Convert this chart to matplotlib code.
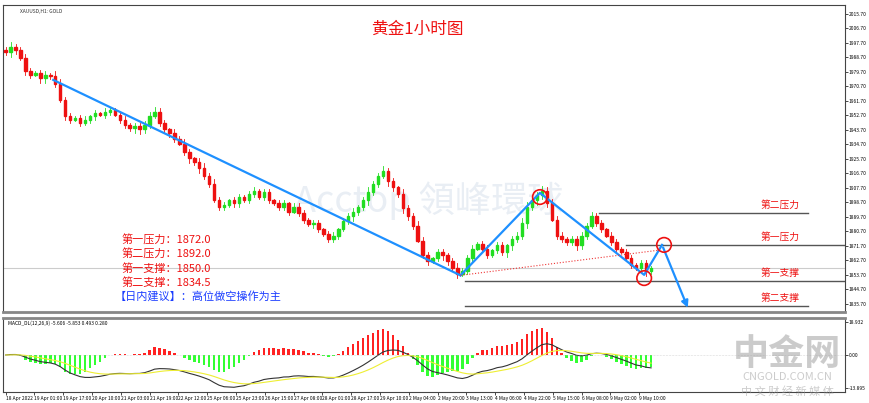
import numpy as np
import pandas as pd
import matplotlib
matplotlib.use("Agg")
import matplotlib.pyplot as plt
from matplotlib.patches import Rectangle

plt.rcParams['font.family'] = ['Noto Sans CJK SC', 'DejaVu Sans']

closes = [1992,1995,1993,1988,1980,1978,1979,1976,1978,1977,1972,1962,1952,1950,1951,1948,1950,1952,1954,1953,
          1955,1956,1953,1950,1947,1945,1946,1944,1947,1952,1955,1948,1944,1942,1938,1935,1930,1926,1924,1920,
          1915,1910,1900,1896,1897,1900,1898,1902,1900,1904,1906,1902,1905,1900,1898,1896,1898,1893,1896,1892,
          1888,1885,1886,1882,1879,1876,1878,1882,1887,1890,1893,1896,1900,1905,1910,1915,1918,1912,1908,1904,
          1895,1890,1884,1875,1866,1862,1864,1868,1866,1862,1858,1854,1856,1864,1870,1873,1870,1866,1869,1872,
          1868,1872,1876,1878,1886,1896,1900,1903,1906,1898,1888,1878,1876,1874,1876,1872,1878,1884,1890,1886,
          1882,1878,1874,1870,1868,1864,1860,1858,1861,1856,1858]
wicks = [2,3,2,2,3,2,1,2,2,1,3,3,2,2,1,2,2,1,2,1,2,2,1,2,2,1,2,2,2,3,3,2,2,1,2,2,3,2,1,2,
         3,2,3,2,2,1,2,2,1,2,2,1,2,2,1,2,2,1,2,2,2,1,2,2,1,2,2,1,2,2,2,1,2,3,2,2,3,2,2,1,
         3,2,2,3,2,2,1,2,2,1,2,3,2,2,2,1,2,2,1,2,2,1,2,2,3,3,2,2,3,2,3,2,2,1,2,2,2,2,3,2,
         2,1,2,2,1,2,2,1,2,2,1]

levels = {'第二压力': 1892.0, '第一压力': 1872.0, '第一支撑': 1850.0, '第二支撑': 1834.5}
ytick_vals = [2015.70 - 9*k for k in range(21)]
date_labels = ['18 Apr 2022','19 Apr 01:00','19 Apr 17:00','20 Apr 10:00','21 Apr 03:00','21 Apr 19:00',
               '22 Apr 12:00','25 Apr 06:00','25 Apr 23:00','26 Apr 15:00','27 Apr 08:00','28 Apr 01:00',
               '28 Apr 17:00','29 Apr 10:00','2 May 04:00','2 May 20:00','3 May 13:00','4 May 06:00',
               '4 May 22:00','5 May 15:00','6 May 08:00','9 May 02:00','9 May 10:00']

trend_x = [9.6, 91.6]; trend_y = [1974.7, 1853.4]
zig_x = [91.6, 107.6, 128.6, 132.2, 137.6]; zig_y = [1853.4, 1904.6, 1853.7, 1872.3, 1830.7]
dot_x = [91.6, 131.5]; dot_y = [1853.4, 1869.0]
circ_x = [107.6, 132.6, 128.6]; circ_y = [1902.0, 1872.3, 1851.7]

fig = plt.figure(figsize=(8.7, 4.03), dpi=100)
fig.patch.set_facecolor('white')
XMAX = 169
ax = fig.add_axes([0.003, 0.226, 0.968, 0.762])
ax.set_xlim(-0.6, XMAX)
ax.set_ylim(1830.7, 2021.3)

n = len(closes)
opens = [closes[0] + 1] + closes[:-1]
for i in range(n):
    o, c = opens[i], closes[i]
    col = '#22dd22' if c >= o else '#ee1111'
    hi = max(o, c) + wicks[i]; lo = min(o, c) - wicks[(i + 3) % n]
    ax.plot([i, i], [lo, hi], color=col, lw=0.6, zorder=2)
    ax.add_patch(Rectangle((i - 0.25, min(o, c)), 0.5, max(abs(c - o), 0.4), color=col, zorder=3))

ax.axhline(closes[-1], color='#cccccc', lw=0.8, zorder=1)
ax.plot(trend_x, trend_y, color='#1e90ff', lw=1.6, zorder=4)
ax.plot(zig_x[:-1], zig_y[:-1], color='#1e90ff', lw=1.6, zorder=4)
ax.annotate('', xy=(zig_x[-1], zig_y[-1] + 1), xytext=(zig_x[-2], zig_y[-2]),
            arrowprops=dict(arrowstyle='-|>', color='#1e90ff', lw=1.6), zorder=4)
ax.plot(dot_x, dot_y, color='#ee3333', lw=0.8, ls=':', zorder=4)
ax.scatter(circ_x, circ_y, s=110, facecolors='none', edgecolors='#ee1111', linewidths=1.2, zorder=5)

line_spans = {'第二压力': (119.6, 161.6), '第一压力': (125, XMAX), '第一支撑': (92.5, XMAX), '第二支撑': (92.5, 161.6)}
for name, v in levels.items():
    a, b = line_spans[name]
    ax.plot([a, b], [v, v], color='#555555', lw=1.0, zorder=1)
    ax.text(152, v + 2, name, color='#ee1111', fontsize=7, va='bottom', ha='left')

txt = ['第一压力：1872.0', '第二压力：1892.0', '第一支撑：1850.0', '第二支撑：1834.5']
for k, t in enumerate(txt):
    ax.text(23.3, 1875.2 - k * 8.7, t, color='#ee1111', fontsize=8, va='center')
ax.text(22, 1840.5, '【日内建议】：高位做空操作为主', color='#1a3cff', fontsize=8, va='center')
ax.text(83, 2006, '黄金1小时图', color='#ee1111', fontsize=12, ha='center', va='center')
ax.text(3, 2017, 'XAUUSD,H1: GOLD', fontsize=3.5, va='center', color='#333333')
ax.text(58, 1900, 'Acctop 領峰環球', fontsize=26, color='#2a5a9a', alpha=0.1, va='center', zorder=0)

ax.yaxis.tick_right()
ax.set_yticks(ytick_vals)
ax.set_yticklabels([f'{v:.2f}' for v in ytick_vals], fontsize=3.5)
ax.tick_params(axis='y', length=2, pad=1, width=0.5)
ax.set_xticks([])
for s in ax.spines.values():
    s.set_color('#444444'); s.set_linewidth(0.8)
ax.spines['bottom'].set_color('#888888'); ax.spines['bottom'].set_linewidth(2)

# MACD panel
cs = pd.Series(closes, dtype=float)
macd = cs.ewm(span=12, adjust=False).mean() - cs.ewm(span=26, adjust=False).mean()
sig = macd.ewm(span=9, adjust=False).mean()
hist = macd - sig
ax2 = fig.add_axes([0.003, 0.027, 0.968, 0.184])
ax2.set_xlim(-0.6, XMAX)
hcol = ['#ff2222' if h >= 0 else '#33ff33' for h in hist]
ax2.bar(range(n), hist * 2.5, width=0.5, color=hcol)
ax2.plot(range(n), macd, color='#333333', lw=0.8)
ax2.plot(range(n), sig, color='#eeee33', lw=0.8)
ax2.axhline(0, color='#bbbbbb', lw=0.4, ls=':')
lim = abs(macd).max() * 1.15
ax2.set_ylim(-lim, lim)
ax2.text(0.5, lim * 0.85, 'MACD_DL(12,26,9) -5.606 -5.853 0.493 0.280', fontsize=3.5, va='center')
ax2.yaxis.tick_right()
ax2.set_yticks([lim * 0.9, 0, -lim * 0.9])
ax2.set_yticklabels(['18.932', '0.00', '-13.895'], fontsize=3.5)
ax2.tick_params(axis='y', length=2, pad=1, width=0.5)
ax2.set_xticks(np.arange(len(date_labels)) * 5.8)
ax2.set_xticklabels(date_labels, fontsize=3.5, ha='left')
ax2.tick_params(axis='x', length=2, pad=1, width=0.5)
for s in ax2.spines.values():
    s.set_color('#444444'); s.set_linewidth(0.8)
ax2.spines['top'].set_color('#888888'); ax2.spines['top'].set_linewidth(2)

fig.text(0.905, 0.12, '中金网', fontsize=26, color='#999999', alpha=0.5, ha='center', va='center', weight='bold')
fig.text(0.905, 0.065, 'CNGOLD.COM.CN', fontsize=8, color='#999999', alpha=0.5, ha='center', va='center')
fig.text(0.905, 0.03, '中 文 财 经 新 媒 体', fontsize=8, color='#999999', alpha=0.5, ha='center', va='center')

fig.savefig('out.png', dpi=100, facecolor='white')
